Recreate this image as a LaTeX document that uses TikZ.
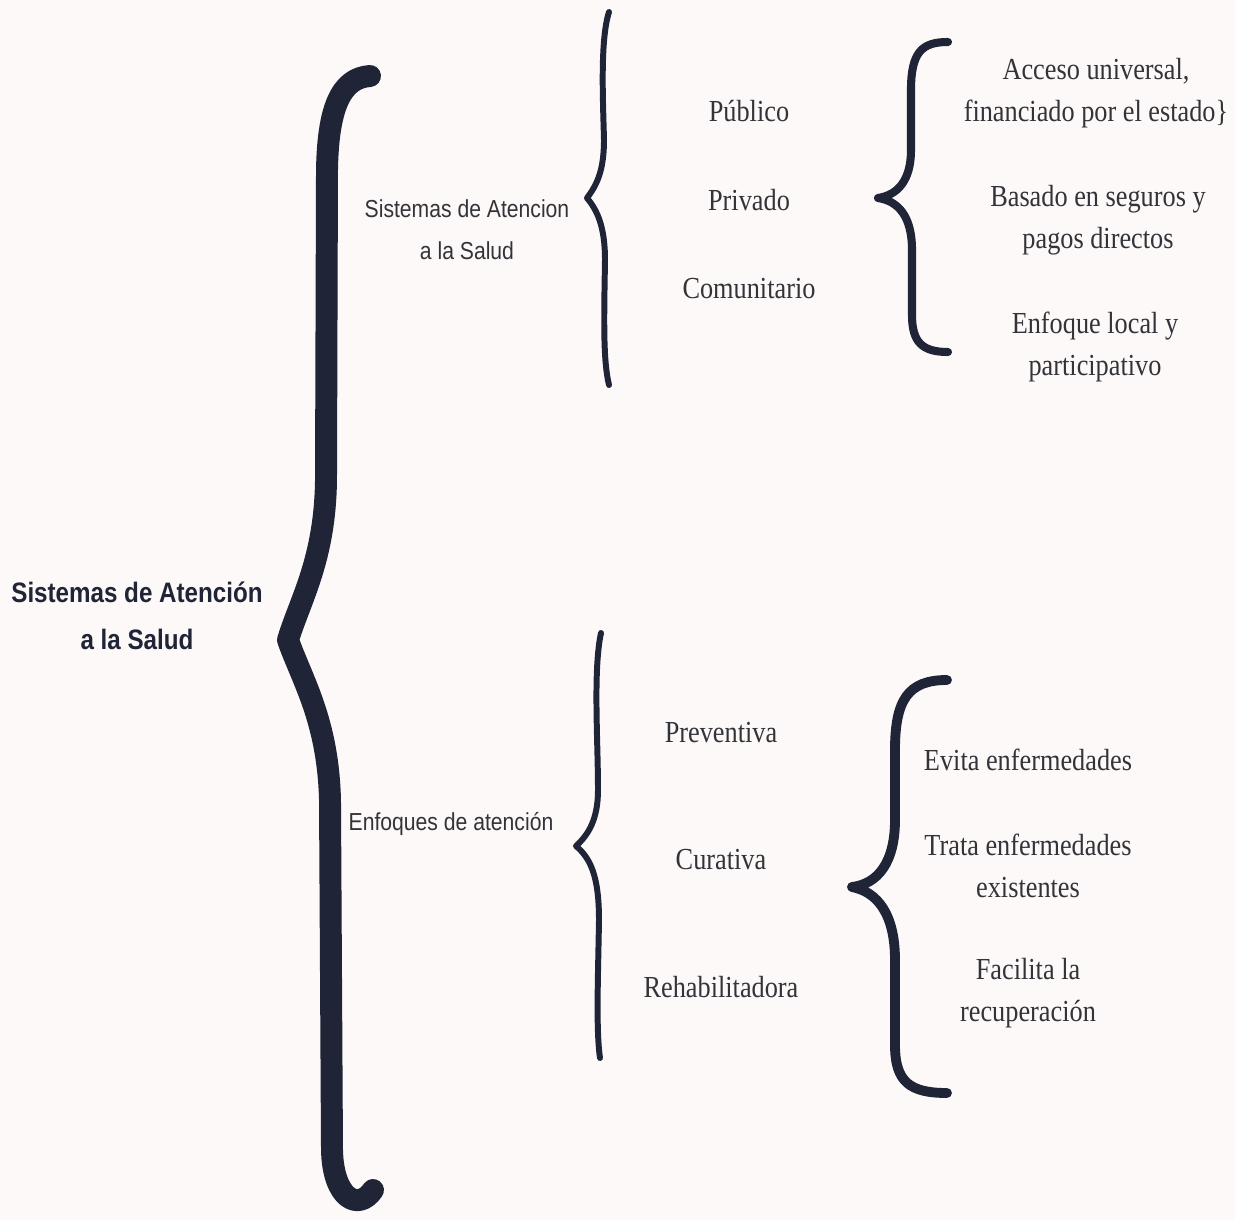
\documentclass[tikz,border=0pt]{standalone}
\usepackage{fontspec}
\setmainfont{Liberation Serif}[FakeStretch=0.86]
\setsansfont{Liberation Sans}[FakeStretch=0.86]
\usetikzlibrary{positioning}
\definecolor{paper}{HTML}{FDF9F8}
\definecolor{ink}{HTML}{1F2436}
\definecolor{txt}{HTML}{333439}

\begin{document}
\begin{tikzpicture}[x=0.02cm, y=-0.02cm,
	every node/.style={align=center,
                       inner sep=1pt,
                       text=txt
                       },
	root/.style={font=\sffamily\bfseries\fontsize{16}{27}\selectfont,
                 text=ink
    },
	branch/.style={font=\sffamily\fontsize{14}{24}\selectfont},
	item/.style={font=\fontsize{17.4}{24}\selectfont},
	brace/.style={draw=ink, line cap=round, line join=round}
]
	\fill[paper] (0,0) rectangle (1235,1220);
	\useasboundingbox (0,0) rectangle (1235,1220);

	% root and its two branches
	\node (root) [root] at (137,616) {Sistemas de Atención\\ a la Salud};
	\node (sistemas) [branch] at (467,230) {Sistemas de Atencion\\ a la Salud};
	\node (enfoques) [branch] at (451,824) {Enfoques de atención};

	% types of system
	\node (publico) [item] at (749,111) {Público};
	\node (privado) [item] at (749,200) {Privado};
	\node (comunitario) [item] at (749,289) {Comunitario};

	\node (acceso) [item] at (1096,93) {Acceso universal,\\ financiado por el estado\}};
	\node (seguros) [item] at (1098,220) {Basado en seguros y\\ pagos directos};
	\node (local) [item] at (1095,347) {Enfoque local y\\ participativo};

	% kinds of care
	\node (preventiva) [item] at (721,733) {Preventiva};
	\node (curativa) [item] at (721,860) {Curativa};
	\node (rehab) [item] at (721,987) {Rehabilitadora};

	\node (evita) [item] at (1028,760) {Evita enfermedades};
	\node (trata) [item] at (1028,866) {Trata enfermedades\\ existentes};
	\node (facilita) [item] at (1028,993) {Facilita la\\ recuperación};

	% braces
	\draw[brace, line width=12.5pt] (370,76) .. controls (340,78) and (328,110) .. (327,170)
		-- (326,480) .. controls (325,560) and (300,600) .. (288,640)
		.. controls (302,680) and (328,720) .. (330,800)
		-- (332,1150) .. controls (333,1198) and (358,1212) .. (373,1190);
	\draw[brace, line width=3.4pt] (609,12) .. controls (600,40) and (603,100) .. (604,140)
		.. controls (604,172) and (596,186) .. (587,198)
		.. controls (597,210) and (605,226) .. (605,260)
		.. controls (604,320) and (603,360) .. (609,385);
	\draw[brace, line width=3.4pt] (601,633) .. controls (593,670) and (598,740) .. (598,790)
		.. controls (598,820) and (588,835) .. (576,846)
		.. controls (590,858) and (599,875) .. (599,920)
		.. controls (598,980) and (596,1030) .. (600,1058);
	\draw[brace, line width=4.6pt] (948,42) .. controls (922,42) and (911,52) .. (911,90)
		-- (911,150) .. controls (911,180) and (898,195) .. (878,198)
		.. controls (898,201) and (912,216) .. (912,250)
		-- (912,315) .. controls (912,342) and (922,352) .. (948,352);
	\draw[brace, line width=5.6pt] (947,680) .. controls (908,680) and (895,700) .. (895,750)
		-- (895,820) .. controls (895,862) and (878,884) .. (852,887)
		.. controls (878,892) and (895,915) .. (895,960)
		-- (895,1045) .. controls (895,1082) and (910,1093) .. (947,1093);
\end{tikzpicture}
\end{document}
